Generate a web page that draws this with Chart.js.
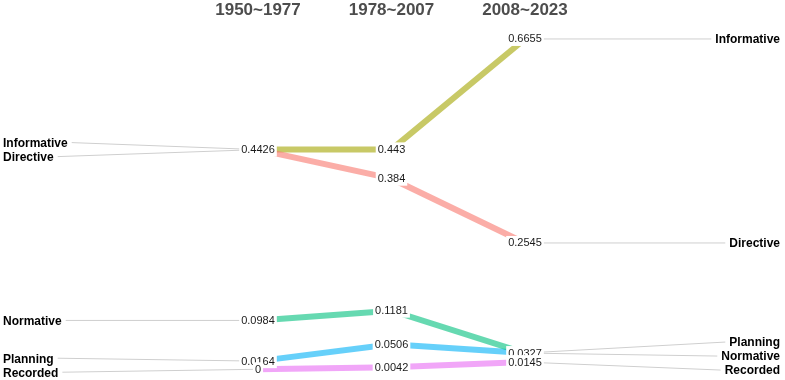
<!DOCTYPE html>
<html><head><meta charset="utf-8">
<script src="https://cdn.jsdelivr.net/npm/chart.js@4"></script>
<style>html,body{margin:0;padding:0;background:#fff}#wrap{width:785px;height:380px}</style>
</head><body><div id="wrap"><canvas id="c"></canvas></div>
<script>
const periods = ['1950~1977', '1978~2007', '2008~2023'];
const seriesNames = ['Directive', 'Informative', 'Normative', 'Planning', 'Recorded'];
const directive = [0.4426, 0.384, 0.2545];
const informative = [0.4426, 0.443, 0.6655];
const normative = [0.0984, 0.1181, 0.0327];
const planning = [0.0164, 0.0506, 0.0327];
const recorded = [0, 0.0042, 0.0145];
const seriesValues = [directive, informative, normative, planning, recorded];
const seriesColors = ['rgba(248,118,109,0.6)', 'rgba(163,165,0,0.6)', 'rgba(0,191,125,0.6)', 'rgba(0,176,246,0.6)', 'rgba(231,107,243,0.6)'];

const FONT = '"Liberation Sans", Arial, sans-serif';
const LEFT_LABEL_X = -1.91;
const RIGHT_LABEL_X = 3.91;

function repel(items, gap) {
  items.sort((a, b) => (a.py - b.py) || (b.name < a.name ? -1 : 1));
  let groups = items.map(it => ({ members: [it] }));
  const center = g => g.members.reduce((s, m) => s + m.py, 0) / g.members.length;
  let changed = true;
  while (changed) {
    changed = false;
    for (let i = 0; i < groups.length - 1; i++) {
      const a = groups[i], b = groups[i + 1];
      const bottomA = center(a) + (a.members.length - 1) * gap / 2;
      const topB = center(b) - (b.members.length - 1) * gap / 2;
      if (topB - bottomA < gap) {
        groups.splice(i, 2, { members: a.members.concat(b.members) });
        changed = true; break;
      }
    }
  }
  groups.forEach(g => {
    const c = center(g), n = g.members.length;
    g.members.forEach((m, k) => { m.ly = c + (k - (n - 1) / 2) * gap; });
  });
  return items;
}

const slopePlugin = {
  id: 'slope',
  beforeDatasetsDraw(chart) {
    const ctx = chart.ctx, xs = chart.scales.x, ys = chart.scales.y;
    const last = periods.length - 1;
    const left = repel(seriesNames.map((n, i) => ({ name: n, py: ys.getPixelForValue(seriesValues[i][0]) })), 14);
    const right = repel(seriesNames.map((n, i) => ({ name: n, py: ys.getPixelForValue(seriesValues[i][last]) })), 14);
    chart.$left = left; chart.$right = right;
    ctx.save();
    ctx.strokeStyle = '#cfcfcf'; ctx.lineWidth = 1;
    ctx.font = 'bold 12px ' + FONT;
    const lx = xs.getPixelForValue(LEFT_LABEL_X), rx = xs.getPixelForValue(RIGHT_LABEL_X);
    const x0 = xs.getPixelForValue(0), x2 = xs.getPixelForValue(last);
    left.forEach(m => {
      const w = ctx.measureText(m.name).width;
      ctx.beginPath(); ctx.moveTo(lx + w + 4, m.ly); ctx.lineTo(x0, m.py); ctx.stroke();
    });
    right.forEach(m => {
      const w = ctx.measureText(m.name).width;
      ctx.beginPath(); ctx.moveTo(x2, m.py); ctx.lineTo(rx - w - 4, m.ly); ctx.stroke();
    });
    ctx.restore();
  },
  afterDatasetsDraw(chart) {
    const ctx = chart.ctx, xs = chart.scales.x, ys = chart.scales.y;
    ctx.save();
    ctx.font = '11px ' + FONT;
    ctx.textBaseline = 'middle'; ctx.textAlign = 'center';
    periods.forEach((p, j) => {
      const seen = new Set();
      seriesValues.forEach(vals => {
        const v = vals[j];
        const key = String(v);
        if (seen.has(key)) return;
        seen.add(key);
        const x = xs.getPixelForValue(j), y = ys.getPixelForValue(v);
        const w = ctx.measureText(key).width;
        ctx.fillStyle = '#ffffff';
        ctx.fillRect(x - w / 2 - 2, y - 7, w + 4, 14);
        ctx.fillStyle = '#1a1a1a';
        ctx.fillText(key, x, y + 0.5);
      });
    });
    ctx.font = 'bold 12px ' + FONT;
    ctx.fillStyle = '#000000';
    const lx = xs.getPixelForValue(LEFT_LABEL_X), rx = xs.getPixelForValue(RIGHT_LABEL_X);
    ctx.textAlign = 'left';
    chart.$left.forEach(m => ctx.fillText(m.name, lx, m.ly + 1));
    ctx.textAlign = 'right';
    chart.$right.forEach(m => ctx.fillText(m.name, rx, m.ly + 1));
    ctx.font = 'bold 17px ' + FONT;
    ctx.fillStyle = '#4d4d4d';
    ctx.textAlign = 'center';
    periods.forEach((p, j) => ctx.fillText(p, xs.getPixelForValue(j), 10));
    ctx.restore();
  }
};

new Chart(document.getElementById('c'), {
  type: 'line',
  data: {
    datasets: seriesNames.map((n, i) => ({
      label: n,
      data: seriesValues[i].map((v, j) => ({ x: j, y: v })),
      borderColor: seriesColors[i],
      borderWidth: 6,
      pointRadius: 0,
      tension: 0,
      fill: false
    }))
  },
  options: {
    responsive: true,
    maintainAspectRatio: false,
    animation: false,
    layout: { padding: 0 },
    plugins: { legend: { display: false }, tooltip: { enabled: false } },
    scales: {
      x: { type: 'linear', display: false, min: -1.9326, max: 3.9476 },
      y: { type: 'linear', display: false, min: -0.0216, max: 0.744 }
    }
  },
  plugins: [slopePlugin]
});
</script>
</body></html>
